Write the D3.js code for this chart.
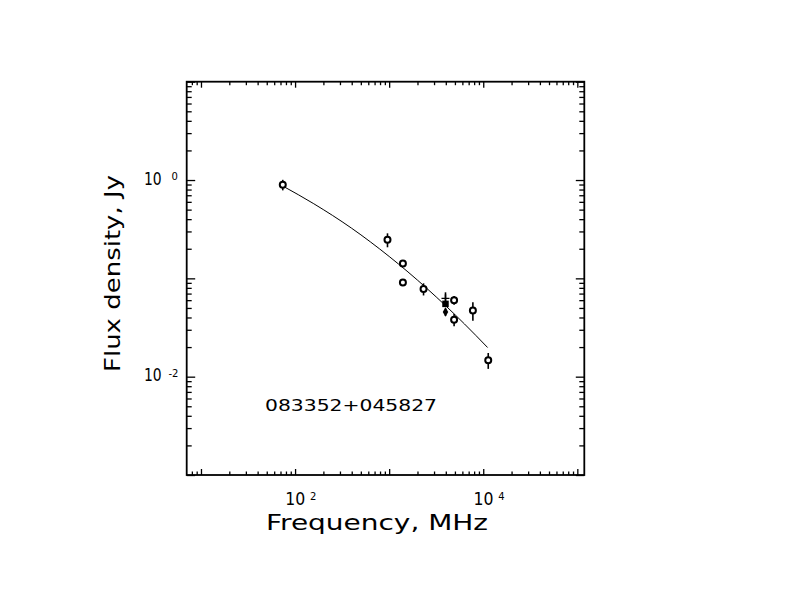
<!DOCTYPE html>
<html><head><meta charset="utf-8">
<script src="https://cdn.jsdelivr.net/npm/d3@7"></script>
<style>body{margin:0;background:#fff}svg{display:block}</style>
</head><body>
<svg id="c" width="792" height="612"></svg>
<script>
// ---- data ----
const sourceName = "083352+045827";
const xTitle = "Frequency, MHz";
const yTitle = "Flux density, Jy";
// open circles
const circFreq = [74, 960, 1400, 1400, 2320, 4900, 4900, 7760, 11300];
const circFlux = [0.895, 0.247, 0.142, 0.091, 0.078, 0.060, 0.038, 0.047, 0.0147];
const circErr  = [0.11, 0.04, 0.008, 0.004, 0.011, 0.006, 0.0055, 0.010, 0.0027];
// plus marker
const plusFreq = [3970];
const plusFlux = [0.0626];
const plusErr  = [0.0095];
// filled square
const sqFreq = [3970];
const sqFlux = [0.055];
// filled diamond
const diaFreq = [3970];
const diaFlux = [0.0454];
const diaErr  = [0.004];
// fitted spectrum curve
const fitFreq = [74, 158, 398, 1000, 2512, 6310, 11120];
const fitFlux = [0.869, 0.574, 0.324, 0.167, 0.0791, 0.0344, 0.0198];
// axis ticks
const xMajor = [10, 100, 1000, 10000, 100000];
const yMajor = [0.001, 0.01, 0.1, 1, 10];
const xLabels = [[100, "2"], [10000, "4"]];
const yLabels = [[1, "0"], [0.01, "-2"]];

// ---- drawing ----
const svg = d3.select("#c");
const L = 186.7, R = 584.3, T = 81.7, B = 475;
const x = d3.scaleLog().domain([7.05, 1.186e5]).range([L, R]);
const y = d3.scaleLog().domain([1e-3, 10]).range([B, T]);

function minors(dom) {
  const out = [];
  for (let e = -4; e <= 6; e++) for (let m = 2; m <= 9; m++) {
    const v = m * Math.pow(10, e);
    if (v >= dom[0] && v <= dom[1]) out.push(v);
  }
  return out;
}
const xMinor = minors(x.domain());
const yMinor = minors(y.domain());

function drawAxis(axisGen, scale, vals, size, transform) {
  const g = svg.append("g").attr("transform", transform)
    .call(axisGen(scale).tickValues(vals).tickSize(-size).tickSizeOuter(0).tickFormat(""));
  g.select(".domain").remove();
  g.selectAll("line").attr("stroke", "#000").attr("stroke-width", 1.3);
}
const xMaj = xMajor.filter(v => v >= x.domain()[0] && v <= x.domain()[1]);
drawAxis(d3.axisBottom, x, xMaj, 6, `translate(0,${B})`);
drawAxis(d3.axisBottom, x, xMinor, 3.5, `translate(0,${B})`);
drawAxis(d3.axisTop, x, xMaj, 6, `translate(0,${T})`);
drawAxis(d3.axisTop, x, xMinor, 3.5, `translate(0,${T})`);
drawAxis(d3.axisLeft, y, yMajor, 8.5, `translate(${L},0)`);
drawAxis(d3.axisLeft, y, yMinor, 5, `translate(${L},0)`);
drawAxis(d3.axisRight, y, yMajor, 8.5, `translate(${R},0)`);
drawAxis(d3.axisRight, y, yMinor, 5, `translate(${R},0)`);

svg.append("rect").attr("x", L).attr("y", T).attr("width", R - L).attr("height", B - T)
  .attr("fill", "none").attr("stroke", "#000").attr("stroke-width", 1.8);

const font = "DejaVu Sans, sans-serif";
// x tick labels
xLabels.forEach(([v, ex]) => {
  svg.append("text").attr("x", x(v) - 9.7).attr("y", 505)
    .attr("font-family", font).attr("font-size", 17)
    .attr("textLength", 20).attr("lengthAdjust", "spacingAndGlyphs").text("10");
  svg.append("text").attr("x", x(v) + 15).attr("y", 500).attr("font-family", font)
    .attr("font-size", 10).text(ex);
});
// y tick labels
yLabels.forEach(([v, ex]) => {
  svg.append("text").attr("x", 144).attr("y", y(v) + 4.5)
    .attr("font-family", font).attr("font-size", 17)
    .attr("textLength", 17.7).attr("lengthAdjust", "spacingAndGlyphs").text("10");
  svg.append("text").attr("x", ex.length > 1 ? 168.5 : 171.5).attr("y", y(v)).attr("font-family", font)
    .attr("font-size", 10).text(ex);
});
// axis titles
svg.append("text").attr("x", 266).attr("y", 530).attr("font-family", font)
  .attr("font-size", 21).attr("textLength", 222).attr("lengthAdjust", "spacingAndGlyphs").text(xTitle);
svg.append("text").attr("transform", "translate(120,372) rotate(-90)").attr("font-family", font)
  .attr("font-size", 21).attr("textLength", 197).attr("lengthAdjust", "spacingAndGlyphs").text(yTitle);
// source name
svg.append("text").attr("x", 265).attr("y", 411).attr("font-family", font)
  .attr("font-size", 15).attr("textLength", 172).attr("lengthAdjust", "spacingAndGlyphs").text(sourceName);

// fitted curve
const line = d3.line().x(d => x(d[0])).y(d => y(d[1])).curve(d3.curveMonotoneX);
svg.append("path").datum(fitFreq.map((f, i) => [f, fitFlux[i]]))
  .attr("d", line).attr("fill", "none").attr("stroke", "#000").attr("stroke-width", 1);

function errBars(fs, vs, es) {
  fs.forEach((f, i) => {
    svg.append("line").attr("x1", x(f)).attr("x2", x(f))
      .attr("y1", y(vs[i] + es[i])).attr("y2", y(vs[i] - es[i]))
      .attr("stroke", "#000").attr("stroke-width", 1.6);
  });
}
errBars(circFreq, circFlux, circErr);
errBars(plusFreq, plusFlux, plusErr);
errBars(diaFreq, diaFlux, diaErr);

// markers
circFreq.forEach((f, i) => {
  svg.append("circle").attr("cx", x(f)).attr("cy", y(circFlux[i])).attr("r", 3)
    .attr("fill", "#fff").attr("stroke", "#000").attr("stroke-width", 2);
});
plusFreq.forEach((f, i) => {
  svg.append("path").attr("transform", `translate(${x(f)},${y(plusFlux[i])})`)
    .attr("d", "M-4,0H4M0,-4V4").attr("stroke", "#000").attr("stroke-width", 1.4).attr("fill", "none");
});
sqFreq.forEach((f, i) => {
  svg.append("path").attr("transform", `translate(${x(f)},${y(sqFlux[i])})`)
    .attr("d", d3.symbol(d3.symbolSquare, 42)()).attr("fill", "#000");
});
diaFreq.forEach((f, i) => {
  svg.append("path").attr("transform", `translate(${x(f)},${y(diaFlux[i])})`)
    .attr("d", d3.symbol(d3.symbolDiamond, 26)()).attr("fill", "#000");
});
</script>
</body></html>
